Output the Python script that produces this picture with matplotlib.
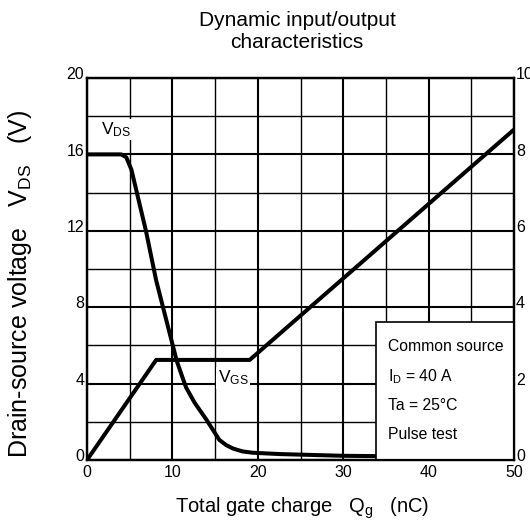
# Dynamic input/output characteristics (gate charge curve)
import matplotlib
matplotlib.use("Agg")
import matplotlib.pyplot as plt
import matplotlib.transforms as mtransforms
from matplotlib.patches import Rectangle

plt.rcParams['font.family'] = ['Liberation Sans', 'DejaVu Sans']
plt.rcParams['mathtext.fontset'] = 'custom'
plt.rcParams['mathtext.rm'] = 'Liberation Sans'
plt.rcParams['mathtext.default'] = 'regular'

# drain-source voltage (left axis, V) vs total gate charge (nC)
qg_vds = [0, 4.0, 4.6, 5.2, 6.9, 8.1, 9.7, 10.5, 11.2, 11.6, 12.6, 14.0,
          15.0, 15.5, 16.3, 17.1, 18.2, 19.4, 22.6, 30, 40, 50]
vds = [16.0, 16.0, 15.85, 15.2, 12.0, 9.4, 6.6, 5.2, 4.3, 3.8, 3.0, 2.1,
       1.4, 1.05, 0.78, 0.6, 0.45, 0.38, 0.31, 0.22, 0.18, 0.15]

# gate-source voltage (right axis, V)
qg_vgs = [0, 8.1, 19.05, 50]
vgs = [0, 2.62, 2.62, 8.65]

x_ticks = [0, 10, 20, 30, 40, 50]
left_ticks = [0, 4, 8, 12, 16, 20]
right_ticks = [0, 2, 4, 6, 8, 10]

conditions = ["Common source", r"$I_D$ = 40 A", "Ta = 25°C", "Pulse test"]

fig = plt.figure(figsize=(5.3, 5.25), dpi=100)
ax = fig.add_axes([87/530, 1 - 460/525, 427/530, 382/525])
ax.set_xlim(0, 50)
ax.set_ylim(0, 20)

ax.set_xticks(x_ticks)
ax.set_xticks(range(0, 51, 5), minor=True)
ax.set_yticks(left_ticks)
ax.set_yticks(range(0, 21, 2), minor=True)
ax.grid(which='major', color='black', lw=1.5)
ax.grid(which='minor', color='black', lw=1.0)
ax.tick_params(which='both', length=0, labelsize=11.5)
ax.tick_params(axis='x', pad=3.5)
ax.tick_params(axis='y', pad=2)

# tick labels sit just above their grid line
down = mtransforms.ScaledTranslation(0, -3/72, fig.dpi_scale_trans)
for lab in ax.get_yticklabels():
    lab.set_verticalalignment('bottom')
    lab.set_transform(lab.get_transform() + down)

ax.plot(qg_vds, vds, color='black', lw=2.9, solid_capstyle='butt', zorder=3)

ax2 = ax.twinx()
ax2.set_ylim(0, 10)
ax2.set_yticks(right_ticks)
ax2.tick_params(length=0, labelsize=11.5, pad=1.5)
for lab in ax2.get_yticklabels():
    lab.set_verticalalignment('bottom')
    lab.set_transform(lab.get_transform() + down)
ax2.plot(qg_vgs, vgs, color='black', lw=2.9, solid_capstyle='butt', zorder=3)

for a in (ax, ax2):
    for s in a.spines.values():
        s.set_linewidth(1.6)

# curve labels
ax.text(1.6, 17.3, r"$V_{DS}$", fontsize=12.5, ha='left', va='center',
        bbox=dict(fc='white', ec='none', pad=1), zorder=4)
ax2.text(15.3, 2.15, r"$V_{GS}$", fontsize=12.5, ha='left', va='center',
         bbox=dict(fc='white', ec='none', pad=1), zorder=4)

# test conditions box
ax.add_patch(Rectangle((33.8, 0), 16.2, 7.24, fc='white', ec='black',
                       lw=1.2, zorder=5))
for txt, yy in zip(conditions, [5.93, 4.36, 2.83, 1.36]):
    ax.text(35.25, yy, txt, fontsize=11.3, ha='left', va='center', zorder=6)

fig.text(297/530, 1 - 20/525, "Dynamic input/output", fontsize=15,
         ha='center', va='center')
fig.text(297/530, 1 - 43/525, "characteristics", fontsize=15,
         ha='center', va='center')

ax.set_xlabel(r"Total gate charge   $Q_g$   (nC)", fontsize=14.5, va='center')
ax.xaxis.set_label_coords(0.503, -0.126)
ax.set_ylabel(r"Drain-source voltage   $V_{DS}$   (V)", fontsize=18,
              va='center')
ax.yaxis.set_label_coords(-0.157, 0.461)

fig.savefig("out.png", dpi=100)
